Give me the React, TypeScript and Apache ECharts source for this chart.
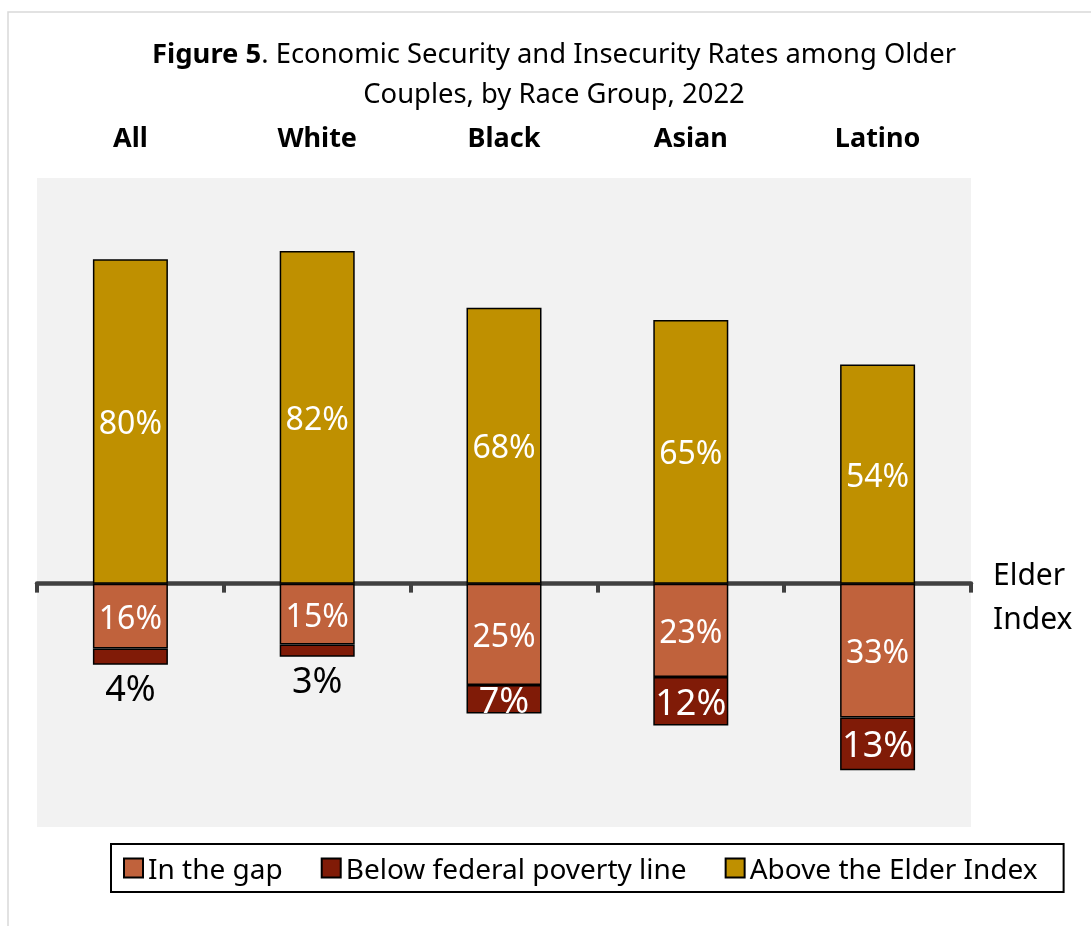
import React, { useEffect, useRef } from "react";
import * as echarts from "echarts";

const categories = ["All", "White", "Black", "Asian", "Latino"];
const inTheGap = [16, 15, 25, 23, 33];
const belowPoverty = [4, 3, 7, 12, 13];
const aboveElder = [80, 82, 68, 65, 54];
const seriesNames = ["In the gap", "Below federal poverty line", "Above the Elder Index"];

const FONT = "Noto Sans";

export default function App() {
  const ref = useRef<HTMLDivElement>(null);
  useEffect(() => {
    document.body.style.margin = "0";
    const chart = echarts.init(ref.current!, null, { renderer: "svg" });
    const border = { borderColor: "#000", borderWidth: 1.5 };
    const pct = (p: any) => Math.abs(p.value) + "%";
    chart.setOption({
      animation: false,
      textStyle: { fontFamily: FONT },
      grid: {
        left: 37,
        right: 120,
        top: 178,
        bottom: 99,
        show: true,
        backgroundColor: "#f2f2f2",
        borderWidth: 0,
        containLabel: false,
      },
      graphic: [
        {
          type: "rect",
          z: -10,
          shape: { x: 8, y: 12, width: 1200, height: 1000 },
          style: { fill: "none", stroke: "#d9d9d9", lineWidth: 1.5 },
        },
        {
          type: "text",
          x: 554,
          y: 52,
          style: {
            text: "{b|Figure 5}. Economic Security and Insecurity Rates among Older",
            fontFamily: FONT,
            fontSize: 27.4,
            fill: "#000",
            align: "center",
            verticalAlign: "middle",
            rich: { b: { fontWeight: "bold", fontSize: 27.4, fontFamily: FONT, fill: "#000" } },
          },
        },
        {
          type: "text",
          x: 554,
          y: 92,
          style: {
            text: "Couples, by Race Group, 2022",
            fontFamily: FONT,
            fontSize: 27.4,
            fill: "#000",
            align: "center",
            verticalAlign: "middle",
          },
        },
        {
          type: "text",
          x: 993,
          y: 573,
          style: { text: "Elder", fontFamily: FONT, fontSize: 30, fill: "#000", align: "left", verticalAlign: "middle" },
        },
        {
          type: "text",
          x: 993,
          y: 617,
          style: { text: "Index", fontFamily: FONT, fontSize: 30, fill: "#000", align: "left", verticalAlign: "middle" },
        },
      ],
      legend: {
        left: 111,
        top: 844,
        padding: [10, 26, 10, 12],
        borderColor: "#000",
        borderWidth: 2,
        itemGap: 38,
        itemWidth: 19,
        itemHeight: 19,
        icon: "rect",
        textStyle: { fontSize: 28, color: "#000", fontFamily: FONT },
        data: seriesNames,
      },
      xAxis: [
        {
          type: "category",
          data: categories,
          axisLine: { onZero: true, lineStyle: { color: "#404040", width: 4.5 } },
          axisTick: { show: true, length: 9, lineStyle: { color: "#404040", width: 4 } },
          axisLabel: { show: false },
          splitLine: { show: false },
        },
        {
          type: "category",
          data: categories,
          position: "top",
          axisLine: { show: false },
          axisTick: { show: false },
          axisLabel: { show: true, fontSize: 27, fontWeight: "bold", color: "#000", margin: 28, fontFamily: FONT },
        },
      ],
      yAxis: { type: "value", min: -60, max: 100, show: false, splitLine: { show: false } },
      series: [
        {
          name: seriesNames[0],
          type: "bar",
          stack: "t",
          barWidth: 75,
          data: inTheGap.map((v) => -v),
          itemStyle: { color: "#c0623c", ...border },
          label: { show: true, position: "inside", color: "#fff", fontSize: 32, formatter: pct, fontFamily: FONT },
        },
        {
          name: seriesNames[1],
          type: "bar",
          stack: "t",
          barWidth: 75,
          data: belowPoverty.map((v) =>
            v < 5
              ? { value: -v, label: { position: "bottom", color: "#000", distance: 5 } }
              : { value: -v }
          ),
          itemStyle: { color: "#801b07", ...border },
          label: { show: true, position: "inside", color: "#fff", fontSize: 36, formatter: pct, fontFamily: FONT },
        },
        {
          name: seriesNames[2],
          type: "bar",
          stack: "t",
          barWidth: 75,
          data: aboveElder,
          itemStyle: { color: "#bf9000", ...border },
          label: { show: true, position: "inside", color: "#fff", fontSize: 32, formatter: pct, fontFamily: FONT },
        },
      ],
    });
    return () => chart.dispose();
  }, []);
  return <div ref={ref} style={{ position: "fixed", left: 0, top: 0, width: 1091, height: 926 }} />;
}
